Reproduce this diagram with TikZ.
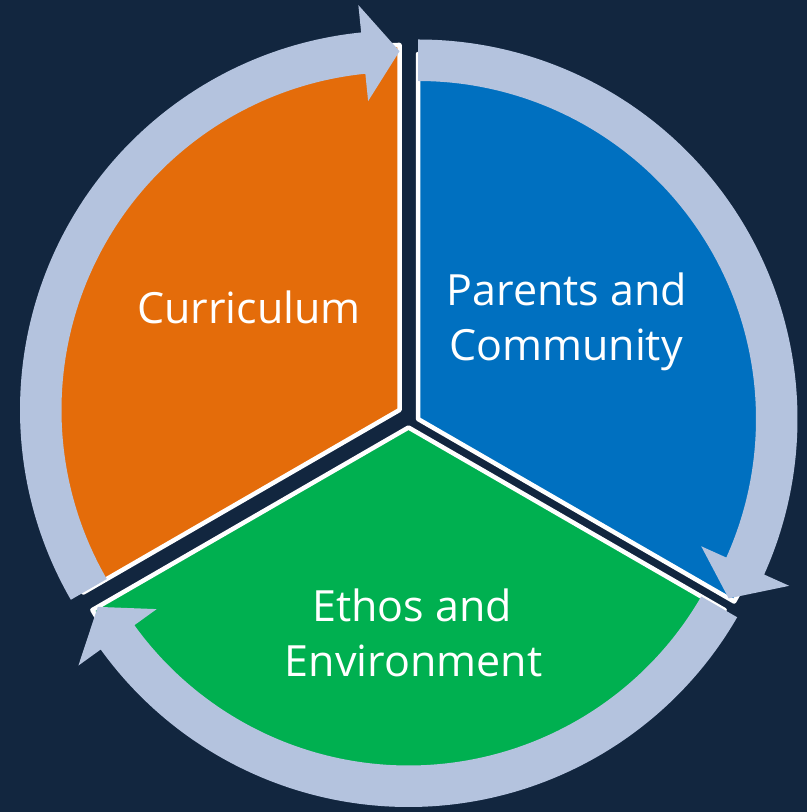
\documentclass[tikz,border=0pt]{standalone}
\usepackage{fontspec}
\setmainfont{Open Sans}
\definecolor{bgnavy}{HTML}{12263F}
\definecolor{segorange}{HTML}{E46C0A}
\definecolor{segblue}{HTML}{0070C0}
\definecolor{seggreen}{HTML}{00B050}
\definecolor{ringblue}{HTML}{B4C3DE}
\newcommand\cycsector[4]{%
  \begin{scope}[shift={#1}]
    \fill[#4, draw=white, line width=4.5pt, line join=round]
      (0,0) -- (#2:365) arc[start angle=#2, end angle=#3, radius=365] -- cycle;
  \end{scope}}
\newcommand\cycarrow[3]{%
  \begin{scope}[shift={#1}]
    \pgfmathsetmacro\hb{#3+5.8}
    \fill[ringblue]
      (#2:379.5) arc[start angle=#2, end angle=\hb, radius=379.5]
      -- (\hb:407) -- (#3:358.75) -- (\hb:310.5) -- (\hb:338)
      arc[start angle=\hb, end angle=#2, radius=338] -- cycle;
  \end{scope}}
\tikzset{lbl/.style={text=white, anchor=base, inner sep=0pt,
  font=\fontsize{43}{50}\selectfont}}
\begin{document}
\begin{tikzpicture}[x=1pt,y=1pt]
\useasboundingbox (0,0) rectangle (807,812);
\fill[bgnavy] (0,0) rectangle (807,812);
% sectors
\cycsector{(399.5,402)}{210}{90}{segorange}
\cycsector{(418,393)}{90}{-30}{segblue}
\cycsector{(408.5,384.5)}{-30}{-150}{seggreen}
% circular arrows
\cycarrow{(399.5,402)}{210}{90}
\cycarrow{(418,393)}{90}{-30}
\cycarrow{(408.5,384.5)}{-30}{-150}
% labels
\node[lbl] (cur) at (249,488) {Curriculum};
\node[lbl] (pc1) at (567,506) {Parents and};
\node[lbl] (pc2) at (566,451) {Community};
\node[lbl] (ee1) at (412,190) {Ethos and};
\node[lbl] (ee2) at (413.5,135) {Environment};
\end{tikzpicture}
\end{document}
